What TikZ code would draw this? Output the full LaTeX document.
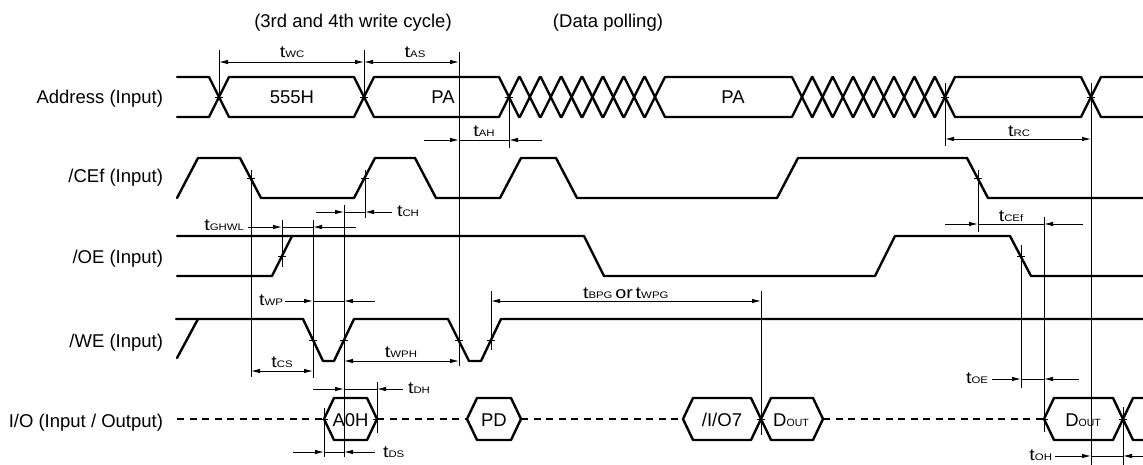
\documentclass[tikz,border=0pt]{standalone}
\usepackage{fontspec}
\setmainfont{Liberation Sans}
\newfontfamily\wideface[FakeStretch=1.2]{Liberation Sans}
\usetikzlibrary{arrows.meta}
\newcommand\tsym[1]{{\wideface\fontsize{16.5}{18}\selectfont t\fontsize{9.5}{11}\selectfont #1}}
\newcommand\orword{{\wideface\fontsize{16.5}{18}\selectfont or}}
\newcommand\doutlab{D{\fontsize{10.5}{12}\selectfont OUT}}
\newcommand\ahex[2]{\draw[wave] (#1,97) -- ({#1+10},77) -- ({#2-10},77) -- (#2,97) -- ({#2-10},117) -- ({#1+10},117) -- cycle;}
\newcommand\ihex[2]{\draw[wave] (#1,419) -- ({#1+10},398) -- ({#2-10},398) -- (#2,419) -- ({#2-10},440) -- ({#1+10},440) -- cycle;}
\begin{document}
\begin{tikzpicture}[x=1pt,y=-1pt,
  every node/.style={inner sep=0pt, outer sep=0pt},
  lab/.style={font=\fontsize{18.5}{22}\selectfont},
  wave/.style={line width=2.4pt, line join=round, line cap=round},
  dashwave/.style={line width=2pt, dash pattern=on 7pt off 5.5pt},
  refl/.style={line width=0.9pt},
  dimtip/.style={line width=0.9pt, -{Latex[length=9pt,width=4.5pt]}},
  dimdbl/.style={line width=0.9pt, {Latex[length=9pt,width=4.5pt]}-{Latex[length=9pt,width=4.5pt]}},
]
\useasboundingbox (0,0) rectangle (1143,465);

% ---------- row labels and headings
\node[lab,anchor=base east] (lA) at (163,104) {Address (Input)};
\node[lab,anchor=base east] (lC) at (163,183) {/CEf (Input)};
\node[lab,anchor=base east] (lO) at (163,263) {/OE (Input)};
\node[lab,anchor=base east] (lW) at (163,347) {/WE (Input)};
\node[lab,anchor=base east] (lI) at (163,427) {I/O (Input / Output)};
\node[lab,anchor=base] (h1) at (353,28) {(3rd and 4th write cycle)};
\node[lab,anchor=base] (h2) at (608,28) {(Data polling)};

% ---------- Address bus
\draw[wave] (177,77) -- (209,77) -- (219,97) -- (209,117) -- (177,117);
\ahex{219}{364}
\ahex{364}{509}
\foreach \k in {0,...,6}{
  \pgfmathsetmacro\aa{509+\k*146/7}
  \pgfmathsetmacro\bb{509+(\k+1)*146/7}
  \ahex{\aa}{\bb}
}
\ahex{655}{802}
\foreach \k in {0,...,6}{
  \pgfmathsetmacro\aa{802+\k*143/7}
  \pgfmathsetmacro\bb{802+(\k+1)*143/7}
  \ahex{\aa}{\bb}
}
\ahex{945}{1091}
\draw[wave] (1143,77) -- (1101,77) -- (1091,97) -- (1101,117) -- (1143,117);
\node[lab,anchor=base] (a555) at (292,104) {555H};
\node[lab,anchor=base] (apa1) at (443,104) {PA};
\node[lab,anchor=base] (apa2) at (733,104) {PA};

% ---------- /CEf
\draw[wave] (177,198) -- (198,158) -- (240,158) -- (261,198) -- (354,198) -- (375,158)
  -- (415,158) -- (436,198) -- (500,198) -- (521,158) -- (556,158) -- (577,198)
  -- (777,198) -- (798,158) -- (967,158) -- (988,198) -- (1143,198);

% ---------- /OE
\draw[wave] (177,276) -- (272,276) -- (292,236);
\draw[wave] (177,236) -- (584,236) -- (604,276) -- (875,276) -- (895,236)
  -- (1010,236) -- (1031,276) -- (1143,276);

% ---------- /WE
\draw[wave] (177,358) -- (198,319);
\draw[wave] (176,319) -- (303,319) -- (323,361) -- (334,361) -- (354,319)
  -- (448,319) -- (469,361) -- (481,361) -- (501,319) -- (1143,319);

% ---------- I/O
\draw[dashwave] (177,419) -- (324,419);
\draw[dashwave] (377,419) -- (467,419);
\draw[dashwave] (521,419) -- (683,419);
\draw[dashwave] (823,419) -- (1044,419);
\ihex{324}{377}
\ihex{467}{521}
\ihex{683}{761}
\ihex{761}{823}
\ihex{1044}{1123}
\draw[wave] (1143,398) -- (1133,398) -- (1123,419) -- (1133,440) -- (1143,440);
\node[lab,anchor=base] (ia0h) at (350.5,426) {A0H};
\node[lab,anchor=base] (ipd) at (494,426) {PD};
\node[lab,anchor=base] (iio7) at (722,426) {/I/O7};
\node[lab,anchor=base] (idout1) at (791,426) {\doutlab};
\node[lab,anchor=base] (idout2) at (1083,426) {\doutlab};

% ---------- tick marks
\foreach \x/\y in {219/97,364/97,509/97,945/97,1091/97,
                   251/178,365/178,978/178,
                   282/256,1021/256,
                   313/340,344/340,459/340,491/340,
                   324/419,377/419,761/419,1044/419,1123/419}
  \draw[refl] ({\x-4},\y) -- ({\x+4},\y);

% ---------- reference lines
\foreach \x/\ya/\yb in {219/50/100, 364/50/100, 459/52/366, 509/97/148,
                        945/83/146, 1091/83/465,
                        251/170/377, 365/170/218, 282/220/267, 313/220/378,
                        344/205/457, 491/291/350, 761/291/435,
                        978/170/232, 1021/245/388, 1044/217/432, 1123/407/465,
                        324/408/457, 377/382/433}
  \draw[refl] (\x,\ya) -- (\x,\yb);

% ---------- dimensions (inside arrows)
\draw[dimdbl] (219,62) -- (364,62);
\draw[dimdbl] (364,62) -- (459,62);
\draw[dimdbl] (945,139) -- (1091,139);
\draw[dimdbl] (251,371) -- (313,371);
\draw[dimdbl] (344,361) -- (459,361);
\draw[dimdbl] (491,301) -- (761,301);

% ---------- dimensions (outside arrows)
\foreach \y/\l/\p/\q/\r in {140/424/459/509/542,
                            301/285/313/344/375,
                            227/248/282/313/356,
                            212/316/344/365/392,
                            224/945/978/1044/1083,
                            379/992/1021/1044/1079,
                            456/1055/1091/1123/1143,
                            389/313/344/377/403,
                            452/293/324/344/375}{
  \draw[refl] (\p,\y) -- (\q,\y);
  \draw[dimtip] (\l,\y) -- (\p,\y);
  \draw[dimtip] (\r,\y) -- (\q,\y);
}

% ---------- timing labels
\node[anchor=base] (tWC) at (292,58) {\tsym{WC}};
\node[anchor=base] (tAS) at (415,58) {\tsym{AS}};
\node[anchor=base] (tAH) at (484,137) {\tsym{AH}};
\node[anchor=base] (tRC) at (1019,137) {\tsym{RC}};
\node[anchor=base west] (tCH) at (397,217) {\tsym{CH}};
\node[anchor=base east] (tGHWL) at (244,231) {\tsym{GHWL}};
\node[anchor=base] (tCEf) at (1011,222) {\tsym{CEf}};
\node[anchor=base east] (tWP) at (283,305) {\tsym{WP}};
\node[anchor=base west] (tBPG) at (583,298) {\tsym{BPG} \orword{} \tsym{WPG}};
\node[anchor=base] (tCS) at (282,367) {\tsym{CS}};
\node[anchor=base] (tWPH) at (401,357) {\tsym{WPH}};
\node[anchor=base west] (tDH) at (408,393) {\tsym{DH}};
\node[anchor=base west] (tDS) at (383,457) {\tsym{DS}};
\node[anchor=base east] (tOE) at (988,383) {\tsym{OE}};
\node[anchor=base east] (tOH) at (1052,460) {\tsym{OH}};
\end{tikzpicture}
\end{document}
